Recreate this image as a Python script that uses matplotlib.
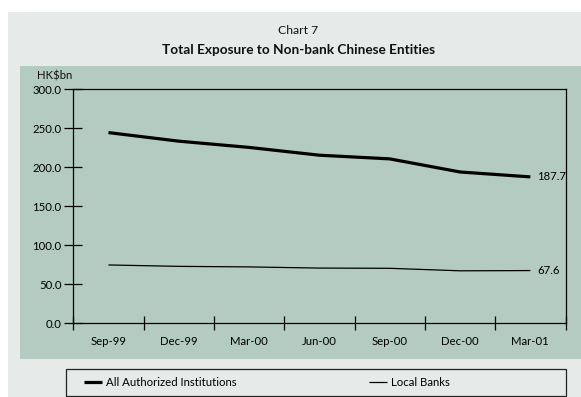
import matplotlib
matplotlib.use("Agg")
import matplotlib.pyplot as plt
from matplotlib.patches import Rectangle
import numpy as np

plt.rcParams['font.family'] = ['Lato', 'DejaVu Sans']

# data (HK$bn)
quarters = ['Sep-99', 'Dec-99', 'Mar-00', 'Jun-00', 'Sep-00', 'Dec-00', 'Mar-01']
all_ais = [244.5, 233.5, 225.5, 215.5, 210.8, 194.0, 187.7]
local_banks = [74.8, 73.0, 72.3, 70.8, 70.5, 67.3, 67.6]
y_ticks = [0, 50, 100, 150, 200, 250, 300]

W, H = 581, 397
fs = 8.2
fig = plt.figure(figsize=(W / 100, H / 100), dpi=100)
fig.patch.set_facecolor('white')

def fx(px):
    return px / W

def fy(py):
    return 1 - py / H

# background panels
fig.patches.append(Rectangle((fx(7.5), 0), 1 - fx(7.5), fy(12),
                             transform=fig.transFigure, facecolor='#e6ebe9',
                             edgecolor='none', zorder=-2))
fig.patches.append(Rectangle((fx(20), fy(359)), 1 - fx(20), fy(66) - fy(359),
                             transform=fig.transFigure, facecolor='#b3cbc1',
                             edgecolor='none', zorder=-1))
# legend box
fig.patches.append(Rectangle((fx(65.5), fy(396)), fx(565.5) - fx(65.5), fy(369) - fy(396),
                             transform=fig.transFigure, facecolor='none',
                             edgecolor='#222222', linewidth=0.9, zorder=-1))

fig.text(fx(298), fy(30), 'Chart 7', ha='center', va='center', fontsize=8.7, color='#111111')
fig.text(fx(298.5), fy(49.5), 'Total Exposure to Non-bank Chinese Entities', ha='center',
         va='center', fontsize=9.8, fontweight='bold', color='#111111')
fig.text(fx(36.5), fy(76), 'HK$bn', ha='left', va='center', fontsize=fs, color='#111111')

ax = fig.add_axes([fx(73.3), fy(323.3), fx(565.5) - fx(73.3), fy(89.3) - fy(323.3)])
ax.set_zorder(2)
ax.patch.set_alpha(0)

x = np.arange(len(quarters))
l1, = ax.plot(x, all_ais, color='black', linewidth=2.3, solid_capstyle='butt',
              label='All Authorized Institutions')
l2, = ax.plot(x, local_banks, color='black', linewidth=0.9, solid_capstyle='butt',
              label='Local Banks')

ax.text(x[-1] + 0.1, all_ais[-1], f'{all_ais[-1]:.1f}', va='center', ha='left', fontsize=fs)
ax.text(x[-1] + 0.1, local_banks[-1], f'{local_banks[-1]:.1f}', va='center', ha='left', fontsize=fs)

ax.set_xlim(-0.5, len(quarters) - 0.5)
ax.set_ylim(0, 300)
ax.set_yticks(y_ticks)
ax.set_yticklabels([f'{v:.1f}' for v in y_ticks], fontsize=fs)
ax.set_xticks(np.arange(len(quarters) + 1) - 0.5)
ax.set_xticklabels([])
ax.set_xticks(x, minor=True)
ax.set_xticklabels(quarters, minor=True, fontsize=fs)
ax.tick_params(axis='x', which='major', direction='inout', length=10, width=0.9)
ax.tick_params(axis='x', which='minor', length=0, pad=9)
ax.tick_params(axis='y', direction='inout', length=13, width=0.9, pad=2)
for s in ax.spines.values():
    s.set_linewidth(0.9)

leg1 = fig.legend(handles=[l1], loc='center left', bbox_to_anchor=(fx(84), fy(382.5)),
                  frameon=False, fontsize=fs, handlelength=1.6, handletextpad=0.35,
                  borderaxespad=0, borderpad=0)
leg2 = fig.legend(handles=[l2], loc='center left', bbox_to_anchor=(fx(369), fy(382.5)),
                  frameon=False, fontsize=fs, handlelength=1.6, handletextpad=0.35,
                  borderaxespad=0, borderpad=0)

fig.savefig('out.png', dpi=100)
